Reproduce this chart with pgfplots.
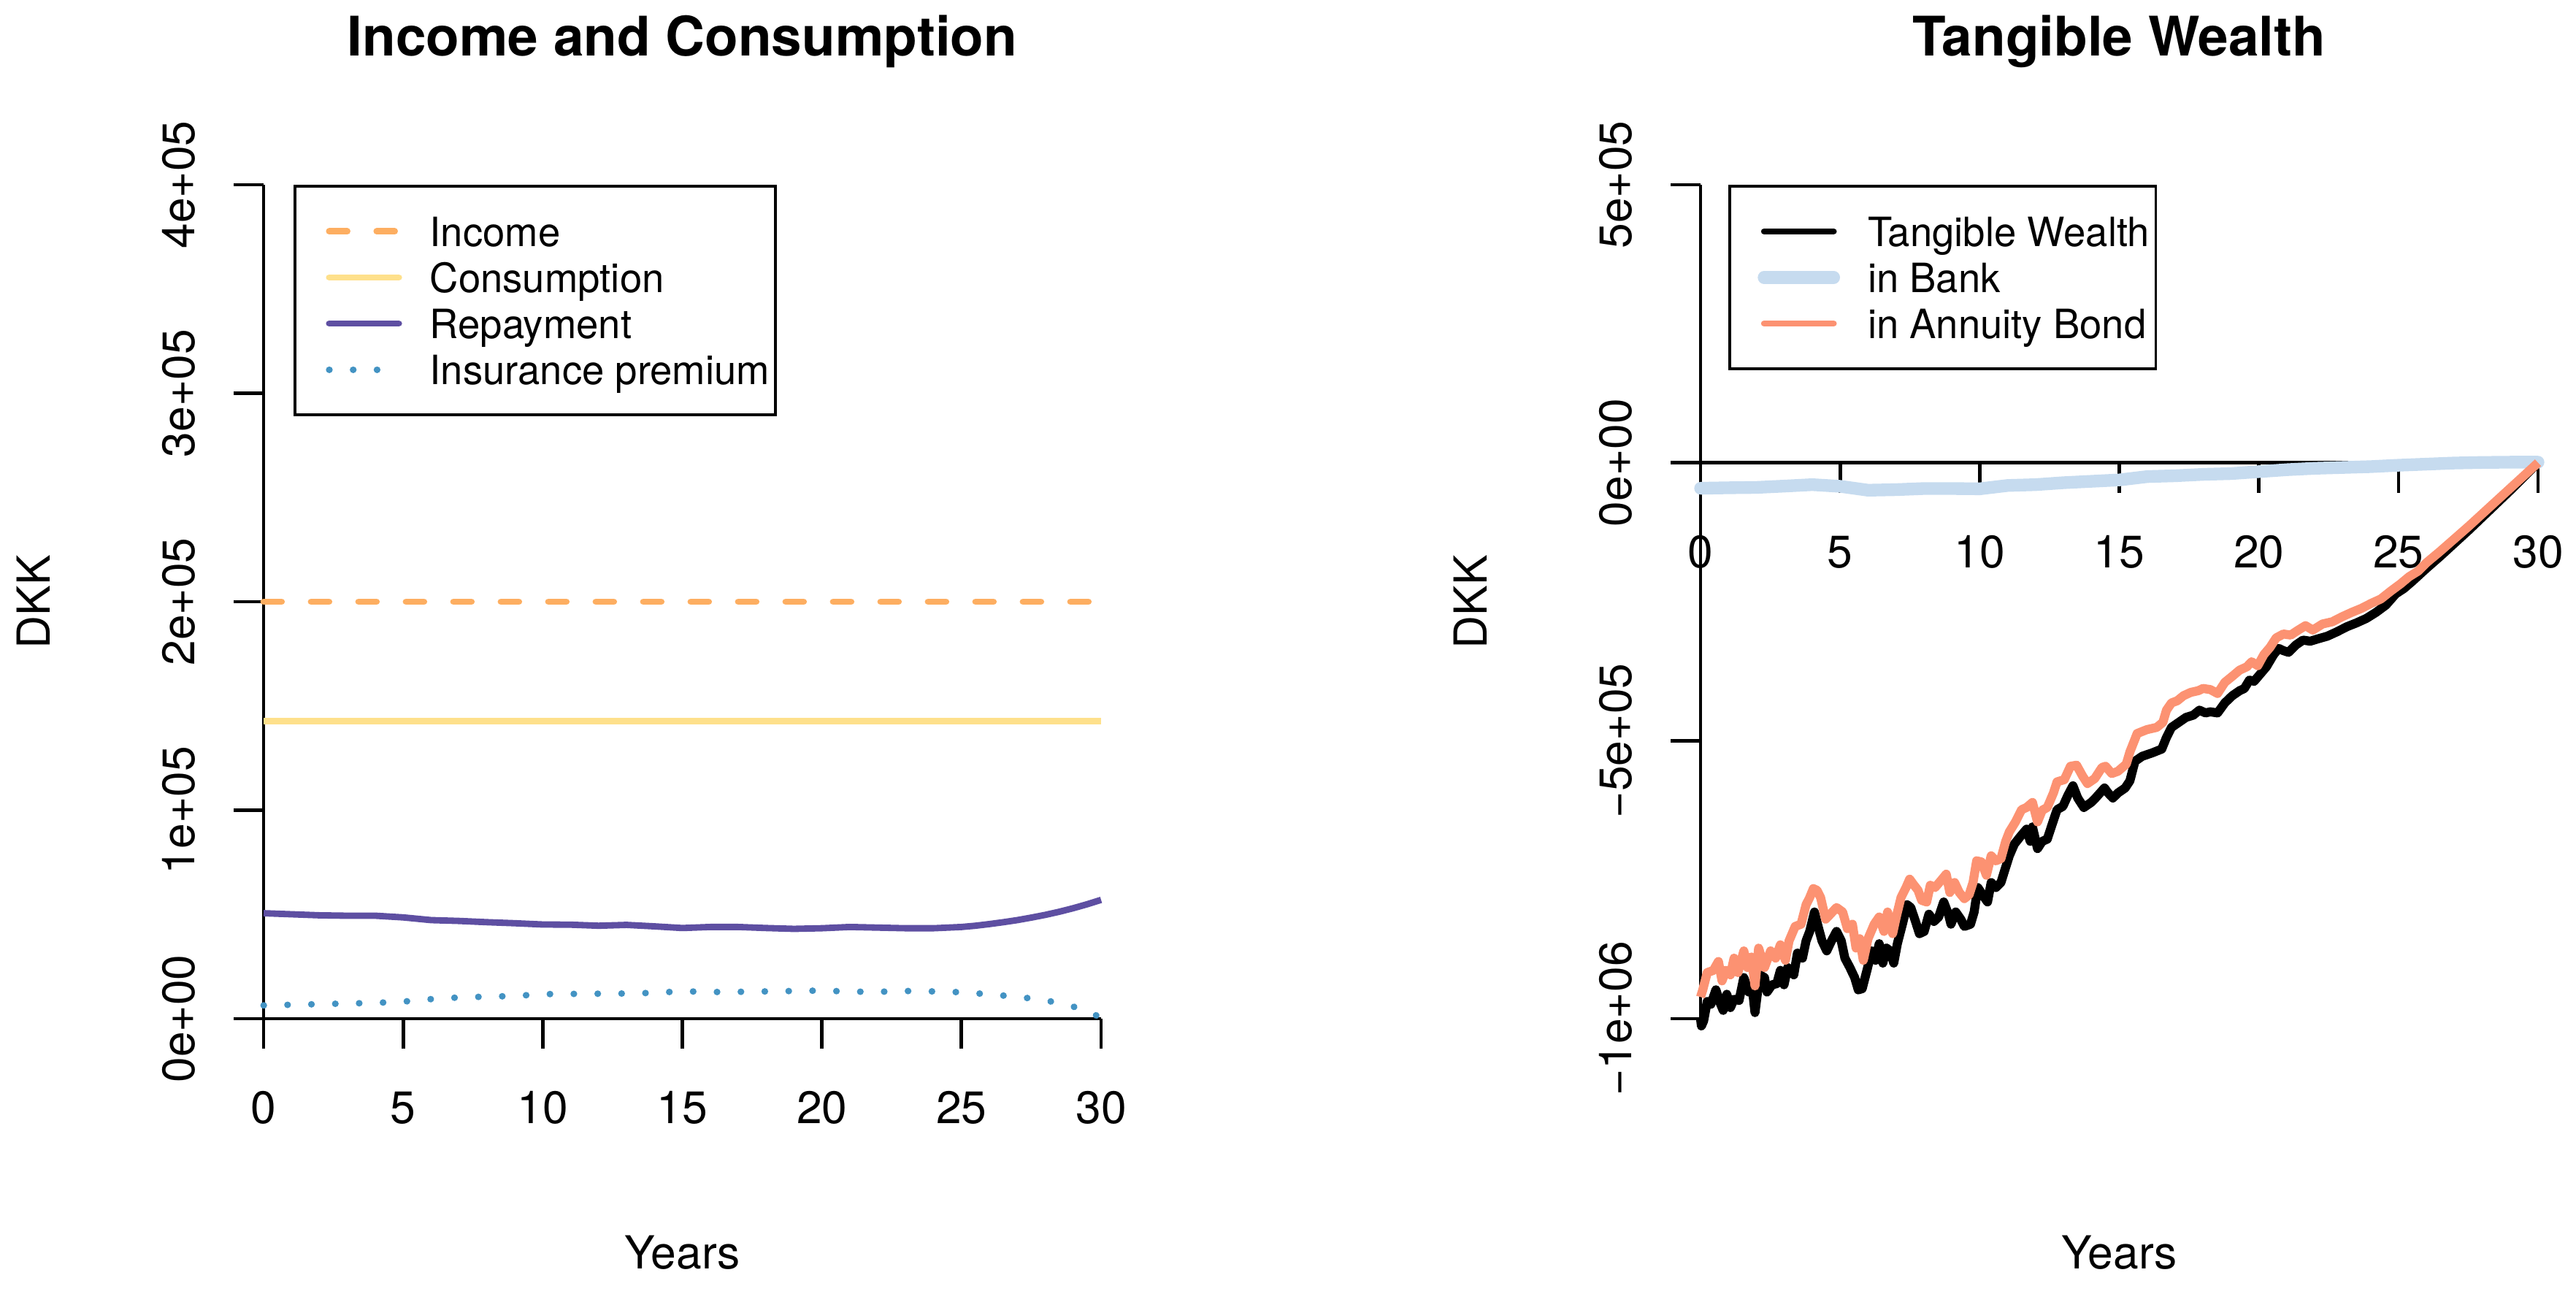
\documentclass[border=0pt]{standalone}
\usepackage{fontspec}
\setmainfont{TeX Gyre Heros}
\newfontfamily\legfont{TeX Gyre Heros}[FakeStretch=0.985]
\usepackage{pgfplots}
\pgfplotsset{compat=1.18}
\definecolor{cIncome}{HTML}{FDAE61}
\definecolor{cCons}{HTML}{FEE08B}
\definecolor{cRepay}{HTML}{5E4FA2}
\definecolor{cIns}{HTML}{4393C3}
\definecolor{cBank}{HTML}{C6DBEF}
\definecolor{cAnn}{HTML}{FC9272}
\pgfplotsset{
  Rbase/.style={
    scale only axis, width=194.99pt, height=194.14pt,
    xmin=0, xmax=30, clip=false,
    every inner x axis line/.append style={-},
    every outer x axis line/.append style={-},
    every inner y axis line/.append style={-},
    every outer y axis line/.append style={-},
    axis line style={black, line width=0.8pt, -},
    xtick={0,5,10,15,20,25,30}, xticklabels={0,5,10,15,20,25,30},
    tick align=outside, major tick length=6.97pt,
    every tick/.style={black, line width=0.8pt},
    hide obscured x ticks=false, hide obscured y ticks=false,
    scaled y ticks=false, scaled x ticks=false,
    tick label style={font=\fontsize{10.6}{12}\selectfont, inner sep=0pt},
    yticklabel style={rotate=90, anchor=base},
    xticklabel style={anchor=base},
    xticklabel shift=17.5pt, yticklabel shift=9.03pt,
    label style={font=\fontsize{10.6}{12}\selectfont, inner sep=0pt},
    title style={font=\fontsize{12.7}{15}\selectfont\bfseries, at={(axis description cs:0.5,1.1545)}, anchor=base, yshift=-6pt, inner sep=0pt},
    xlabel style={at={(axis description cs:0.5,-0.3003)}, anchor=base},
    ylabel style={at={(axis description cs:-0.2554,0.5)}, anchor=base},
    legend cell align=left,
    legend style={draw=black, line width=0.65pt, anchor=north west,
      inner xsep=1.4pt, inner ysep=5.17pt, column sep=6.46pt, row sep=0pt,
      font=\legfont\fontsize{9.4}{11}\selectfont,
      nodes={inner sep=0pt, text height=8.87pt, text depth=1.85pt}},
    legend image code/.code={\path[draw=none] (0pt,0pt) -- (22.8pt,0pt); \draw[##1, line cap=round] (6.59pt,0pt) -- (22.8pt,0pt);},
  },
  thinleg/.style={legend image code/.code={\path[draw=none] (0pt,0pt) -- (22.8pt,0pt); \draw[##1, line width=1.43pt, line cap=round] (6.59pt,0pt) -- (22.8pt,0pt);}},
}
\begin{document}
\begin{tikzpicture}
\path[use as bounding box] (0pt,0pt) rectangle (599.76pt,301.07pt);
\begin{axis}[axis x line=bottom, axis y line=left, Rbase,
  at={(61.37pt,63.92pt)}, anchor=south west,
  ymin=0, ymax=400, ytick={0,100,200,300,400},
  yticklabels={0e+00,1e+05,2e+05,3e+05,4e+05},
  title={Income and Consumption}, xlabel={Years}, ylabel={DKK},
  legend style={at={(axis description cs:0.0357,1)}}]
\addplot[cIncome, line width=1.5pt, line cap=round, dash pattern=on 4.2pt off 6.85pt] coordinates {(0,200) (30,200)};
\addlegendentry{Income}
\addplot[cCons, line width=1.5pt] coordinates {(0,142.7) (30,142.7)};
\addlegendentry{Consumption}
\addplot[cRepay, line width=1.5pt, line join=round] coordinates {
(0,50.6) (1,50.1) (2,49.6) (3,49.4) (4,49.4) (5,48.6) (6,47.3) (7,46.9) (8,46.3) (9,45.8)
(10,45.2) (11,45.1) (12,44.6) (13,45.0) (14,44.3) (15,43.5) (16,44.0) (17,44.0) (18,43.5) (19,43.1)
(20,43.4) (21,44.0) (22,43.7) (23,43.4) (24,43.4) (25,44.0) (25.5,44.6) (26,45.4) (26.5,46.3) (27,47.3)
(27.5,48.5) (28,49.8) (28.5,51.3) (29,53.0) (29.5,54.9) (30,57.0)};
\addlegendentry{Repayment}
\addplot[cIns, line width=1.53pt, line cap=round, dash pattern=on 0.05pt off 5.51pt] coordinates {
(0,6.4) (1,6.7) (2,7.0) (3,7.3) (4,7.6) (5,8.2) (6,9.4) (7,10.2) (8,10.6) (9,10.9)
(10,11.8) (11,11.9) (12,12.0) (13,12.1) (14,12.4) (15,13.2) (16,12.8) (17,12.9) (18,13.1) (19,13.3)
(20,13.5) (21,13.0) (22,12.9) (23,13.3) (24,13.1) (25,12.7) (26,11.7) (27,10.5) (28,8.9) (29,5.8)
(29.5,4.0) (30,0.3)};
\addlegendentry{Insurance premium}
\end{axis}
\begin{axis}[axis x line=middle, axis y line=left, Rbase,
  at={(395.93pt,63.92pt)}, anchor=south west,
  ymin=-1000, ymax=500, ytick={-1000,-500,0,500},
  yticklabels={−1e+06,−5e+05,0e+00,5e+05},
  title={Tangible Wealth}, xlabel={Years}, ylabel={DKK},
  legend style={at={(axis description cs:0.0332,1)}}]
\addplot[black, line width=2.1pt, line join=round, thinleg] coordinates {
(0,-1000) (0.03,-1013) (0.11,-1004) (0.24,-969) (0.37,-974) (0.55,-948) (0.68,-969) (0.81,-985) (0.94,-956)
(1.07,-980) (1.20,-965) (1.38,-967) (1.55,-926) (1.73,-952) (1.86,-948) (1.95,-989) (2.12,-921) (2.29,-926)
(2.38,-952) (2.56,-939) (2.73,-937) (2.86,-913) (2.99,-939) (3.12,-908) (3.34,-921) (3.47,-882) (3.65,-891)
(3.78,-860) (3.91,-843) (4.08,-808) (4.21,-834) (4.35,-860) (4.52,-878) (4.69,-860) (4.87,-843) (5.04,-860)
(5.17,-891) (5.35,-908) (5.52,-926) (5.65,-948) (5.79,-946) (5.96,-913) (6.13,-878) (6.27,-895) (6.40,-865)
(6.53,-900) (6.66,-873) (6.79,-878) (6.92,-900) (7.05,-865) (7.23,-830) (7.40,-795) (7.53,-800) (7.70,-825)
(7.84,-847) (8.01,-843) (8.18,-812) (8.36,-825) (8.53,-817) (8.71,-790) (8.88,-812) (8.97,-830) (9.14,-808)
(9.32,-821) (9.45,-834) (9.67,-830) (9.80,-808) (9.93,-764) (10.10,-777) (10.28,-790) (10.41,-755) (10.58,-764)
(10.76,-755) (10.89,-734) (11.06,-707) (11.24,-686) (11.46,-672) (11.68,-659) (11.81,-681) (11.89,-655) (12.07,-694)
(12.24,-681) (12.42,-677) (12.59,-651) (12.77,-624) (12.98,-618) (13.16,-598) (13.34,-581) (13.51,-603) (13.73,-620)
(13.99,-611) (14.15,-603) (14.47,-585) (14.60,-594) (14.77,-603) (14.95,-594) (15.21,-585) (15.38,-572) (15.56,-537)
(15.82,-528) (16.17,-522) (16.52,-515) (16.69,-494) (16.87,-476) (17.13,-467) (17.39,-458) (17.65,-454) (17.87,-445)
(18.09,-450) (18.26,-448) (18.52,-450) (18.78,-432) (19.05,-419) (19.31,-410) (19.48,-406) (19.66,-391) (19.83,-393)
(20.05,-380) (20.27,-367) (20.53,-345) (20.71,-334) (20.88,-338) (21.06,-341) (21.32,-328) (21.58,-319) (21.84,-321)
(22.10,-317) (22.45,-312) (22.80,-304) (23.15,-295) (23.50,-288) (23.85,-280) (24.20,-269) (24.55,-256) (24.90,-236)
(25.20,-226) (25.50,-213) (26.0,-190) (26.5,-168) (27.0,-145) (27.5,-122) (28.0,-98) (28.5,-74) (29.0,-50)
(29.5,-25) (30.0,0)};
\addlegendentry{Tangible Wealth}
\addplot[cBank, line width=2.95pt, line join=round, line cap=round] coordinates {
(0,-45.9) (1,-45.0) (2,-44.4) (3,-42.0) (4,-39.4) (5,-42.4) (6,-49.4) (7,-48.4) (8,-46.4) (9,-46.4)
(10,-46.9) (11,-40.9) (12,-39.4) (13,-35.9) (14,-33.4) (15,-30.9) (16,-24.9) (17,-23.4) (18,-20.9) (19,-19.5)
(20,-16.0) (21,-12.5) (22,-10.0) (23,-8.5) (24,-7.0) (25,-4.5) (26,-2.5) (27,-0.5) (28,0.5) (29,1.0) (30,1.0)};
\addlegendentry{in Bank}
\addplot[cAnn, line width=2.1pt, line join=round, thinleg] coordinates {
(0,-961) (0.08,-948) (0.24,-917) (0.46,-913) (0.64,-897) (0.77,-932) (0.90,-913) (1.07,-921) (1.20,-891)
(1.34,-917) (1.55,-878) (1.68,-908) (1.82,-889) (1.95,-941) (2.08,-873) (2.29,-908) (2.51,-878) (2.69,-891)
(2.86,-867) (3.04,-895) (3.17,-860) (3.39,-834) (3.60,-830) (3.78,-795) (3.91,-782) (4.04,-766) (4.17,-769)
(4.30,-782) (4.48,-821) (4.65,-812) (4.87,-800) (5.09,-808) (5.26,-838) (5.44,-830) (5.57,-873) (5.70,-856)
(5.83,-895) (6.00,-856) (6.22,-830) (6.40,-817) (6.57,-843) (6.70,-808) (6.88,-847) (7.01,-817) (7.18,-782)
(7.36,-764) (7.49,-749) (7.62,-758) (7.79,-769) (7.92,-787) (8.10,-790) (8.23,-760) (8.40,-764) (8.62,-751)
(8.80,-740) (8.93,-773) (9.10,-755) (9.27,-773) (9.45,-784) (9.62,-777) (9.76,-755) (9.89,-716) (10.06,-718)
(10.24,-742) (10.41,-707) (10.58,-716) (10.76,-712) (10.93,-681) (11.06,-664) (11.28,-646) (11.50,-624) (11.68,-620)
(11.89,-611) (12.07,-646) (12.24,-625) (12.42,-620) (12.64,-594) (12.77,-574) (13.03,-570) (13.25,-546) (13.47,-544)
(13.69,-564) (13.86,-577) (14.12,-568) (14.38,-548) (14.51,-546) (14.73,-559) (14.95,-555) (15.25,-542) (15.38,-520)
(15.64,-487) (15.99,-480) (16.34,-476) (16.56,-467) (16.69,-445) (16.87,-432) (17.08,-428) (17.30,-419) (17.56,-413)
(17.83,-410) (18.00,-406) (18.26,-408) (18.52,-415) (18.78,-395) (19.05,-384) (19.31,-373) (19.57,-367) (19.74,-358)
(19.96,-365) (20.18,-345) (20.40,-332) (20.62,-315) (20.88,-308) (21.14,-310) (21.41,-301) (21.67,-293) (21.93,-301)
(22.28,-290) (22.63,-286) (22.98,-277) (23.33,-269) (23.67,-262) (24.02,-253) (24.37,-245) (24.72,-231) (25.07,-218)
(25.38,-205) (25.70,-195) (26.0,-180) (26.5,-159) (27.0,-137) (27.5,-115) (28.0,-92) (28.5,-69) (29.0,-46)
(29.5,-23) (30.0,0)};
\addlegendentry{in Annuity Bond}
\end{axis}
\end{tikzpicture}
\end{document}
